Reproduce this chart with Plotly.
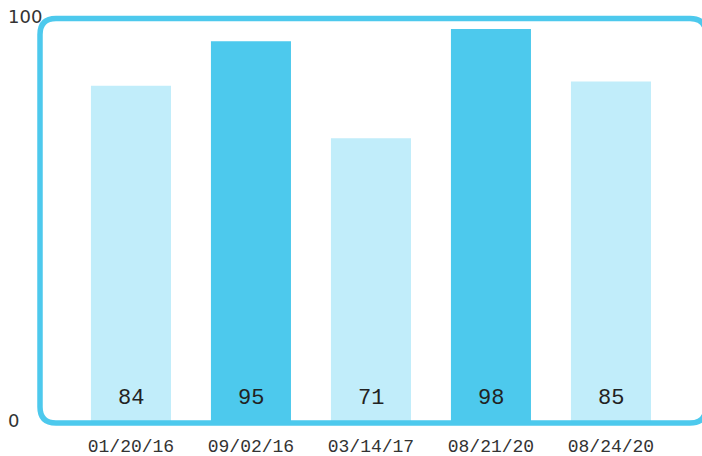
import plotly.graph_objects as go

dates = ["01/20/16", "09/02/16", "03/14/17", "08/21/20", "08/24/20"]
values = [84, 95, 71, 98, 85]
bar_colors = ["#c1edfa", "#4dc9ed", "#c1edfa", "#4dc9ed", "#c1edfa"]
y_ticks = [0, 100]

W, H = 702, 456
L, R, T, B = 40, 2, 21, 31
pw, ph = W - L - R, H - T - B

def px(x):
    return (x - L) / pw

def py(y):
    return (H - B - y) / ph

fig = go.Figure()
fig.add_trace(go.Bar(
    x=list(range(len(dates))), y=values,
    marker=dict(color=bar_colors, line=dict(width=0)),
    width=0.667, hoverinfo="skip",
))

# value labels near bar bottoms
for i, v in enumerate(values):
    fig.add_annotation(x=i, y=0, xref="x", yref="y", text=str(v), showarrow=False,
                       yshift=27, font=dict(family="Liberation Mono", size=22, color="#222222"))

# y labels, left aligned
for t in y_ticks:
    fig.add_annotation(x=px(6), y=t, xref="paper", yref="y", text=str(t), showarrow=False,
                       xanchor="left", yshift=5,
                       font=dict(family="DejaVu Sans", size=18, color="#333333"))

# rounded border
x0, x1, y0, y1, r = 40, 706, 18.5, 423, 16
path = (f"M {px(x0+r)},{py(y0)} L {px(x1-r)},{py(y0)} Q {px(x1)},{py(y0)} {px(x1)},{py(y0+r)} "
        f"L {px(x1)},{py(y1-r)} Q {px(x1)},{py(y1)} {px(x1-r)},{py(y1)} "
        f"L {px(x0+r)},{py(y1)} Q {px(x0)},{py(y1)} {px(x0)},{py(y1-r)} "
        f"L {px(x0)},{py(y0+r)} Q {px(x0)},{py(y0)} {px(x0+r)},{py(y0)} Z")
fig.add_shape(type="path", path=path, xref="paper", yref="paper",
              line=dict(color="#4dc9ed", width=5.5), layer="above")

fig.update_layout(
    width=W, height=H,
    margin=dict(l=L, r=R, t=T, b=B, pad=0),
    paper_bgcolor="white", plot_bgcolor="white",
    showlegend=False,
    xaxis=dict(range=[-0.758, 4.742], tickvals=list(range(len(dates))), ticktext=dates,
               showgrid=False, zeroline=False, showline=False, ticks="",
               tickfont=dict(family="Liberation Mono", size=18, color="#333333"),
               ticklabelstandoff=8, automargin=False),
    yaxis=dict(range=[0, 100], showgrid=False, zeroline=False, showline=False,
               showticklabels=False, ticks="", automargin=False),
)

fig.write_html("out.html", config={"displayModeBar": False},
               post_script="document.body.style.margin='0';document.body.style.padding='0';")
